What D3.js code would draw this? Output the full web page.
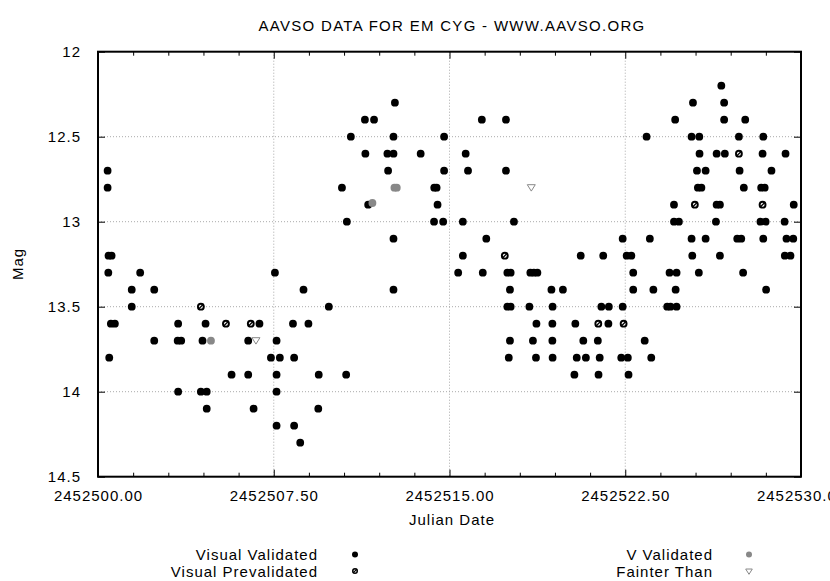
<!DOCTYPE html>
<html lang="en">
  <head>
    <meta charset="UTF-8" />
    <title>AAVSO EM CYG</title>
    <style>
      body { margin: 0; background: #fff; }
      svg text { font-family: "Liberation Sans", Arial, sans-serif; font-size: 15px; letter-spacing: 1px; fill: #000; }
    </style>
  </head>
  <body>
    <div id="chart"></div>
    <script src="https://d3js.org/d3.v7.min.js"></script>
    <script>
      // julian date base, points are stored as [days after JD0, magnitude]
      var JD0 = 2452500;

      var visualValidated = [
        [0.41,12.7],[0.41,12.8],[0.45,13.2],[0.58,13.2],[0.44,13.3],[1.80,13.3],[1.44,13.4],[2.40,13.4],
        [1.44,13.5],[0.55,13.6],[0.72,13.6],[3.42,13.6],[4.59,13.6],[6.89,13.6],[2.40,13.7],[3.40,13.7],
        [3.55,13.7],[4.46,13.7],[6.41,13.7],[7.62,13.7],[0.48,13.8],[7.38,13.8],[7.76,13.8],[8.37,13.8],
        [5.70,13.9],[6.41,13.9],[7.62,13.9],[3.42,14.0],[4.39,14.0],[4.64,14.0],[7.62,14.0],[4.64,14.1],
        [6.64,14.1],[7.62,14.2],
        [12.67,12.3],[11.39,12.4],[11.78,12.4],[10.79,12.5],[12.61,12.5],[14.77,12.5],[11.41,12.6],
        [12.35,12.6],[12.61,12.6],[13.77,12.6],[12.38,12.7],[14.77,12.7],[10.41,12.8],[14.35,12.8],
        [14.45,12.8],[11.53,12.9],[14.49,12.9],[10.62,13.0],[14.34,13.0],[14.73,13.0],[12.61,13.1],
        [7.55,13.3],[8.77,13.4],[12.61,13.4],[9.85,13.5],[8.32,13.6],[8.98,13.6],[9.42,13.9],
        [10.59,13.9],[9.40,14.1],[8.37,14.2],[8.63,14.3],
        [16.38,12.4],[17.41,12.4],[15.69,12.6],[15.79,12.7],[17.41,12.7],[15.57,13.0],[17.75,13.0],
        [16.57,13.1],[22.39,13.1],[15.57,13.2],[20.60,13.2],[21.56,13.2],[22.56,13.2],[22.76,13.2],
        [15.37,13.3],[16.42,13.3],[17.47,13.3],[17.61,13.3],[18.45,13.3],[18.60,13.3],[18.75,13.3],
        [22.84,13.3],[17.58,13.4],[19.35,13.4],[19.84,13.4],[22.84,13.4],[17.47,13.5],[17.61,13.5],
        [18.41,13.5],[19.40,13.5],[21.48,13.5],[21.80,13.5],[22.39,13.5],[18.71,13.6],[19.39,13.6],
        [20.37,13.6],[21.78,13.6],[17.58,13.7],[18.56,13.7],[19.39,13.7],[20.71,13.7],[21.33,13.7],
        [17.53,13.8],[18.69,13.8],[19.40,13.8],[20.43,13.8],[20.82,13.8],[21.41,13.8],[22.33,13.8],
        [22.61,13.8],[20.33,13.9],[21.36,13.9],[22.64,13.9],
        [26.60,12.2],[25.39,12.3],[26.72,12.3],[24.63,12.4],[26.72,12.4],[27.62,12.4],[23.41,12.5],
        [25.33,12.5],[25.66,12.5],[27.35,12.5],[28.39,12.5],[25.67,12.6],[26.40,12.6],[26.75,12.6],
        [28.36,12.6],[29.34,12.6],[25.56,12.7],[25.93,12.7],[27.38,12.7],[28.74,12.7],[25.60,12.8],
        [25.75,12.8],[27.56,12.8],[28.30,12.8],[28.45,12.8],[24.58,12.9],[26.40,12.9],[26.54,12.9],
        [29.69,12.9],[24.58,13.0],[24.79,13.0],[26.37,13.0],[28.27,13.0],[28.49,13.0],[29.30,13.0],
        [23.55,13.1],[25.33,13.1],[25.93,13.1],[27.28,13.1],[27.45,13.1],[28.39,13.1],[29.38,13.1],
        [29.67,13.1],[29.31,13.2],[29.55,13.2],[25.36,13.2],[26.54,13.2],[24.39,13.3],[24.69,13.3],
        [25.64,13.3],[27.53,13.3],[23.70,13.4],[24.65,13.4],[28.51,13.4],[24.29,13.5],[24.43,13.5],
        [24.69,13.5],[23.33,13.7],[23.61,13.8]
      ];
      var visualPrevalidated = [
        [4.39,13.5],[5.46,13.6],[6.52,13.6],[17.36,13.2],[21.35,13.6],[22.43,13.6],
        [27.35,12.6],[25.47,12.9],[28.36,12.9]
      ];
      var vValidated = [[4.82,13.7],[11.71,12.89],[12.65,12.8],[12.75,12.8]];
      var fainterThan = [[6.74,13.7],[18.49,12.8]];

      var xMajor = [0, 7.5, 15, 22.5, 30];
      var xMinor = [1.5, 3, 4.5, 6, 9, 10.5, 12, 13.5, 16.5, 18, 19.5, 21, 24, 25.5, 27, 28.5];
      var yMajor = [12, 12.5, 13, 13.5, 14, 14.5];

      var W = 830, H = 581;
      var pLeft = 98, pRight = 801, pTop = 51.7, pBottom = 476.7;

      var svg = d3.select("#chart").append("svg").attr("width", W).attr("height", H);

      var x = d3.scaleLinear().domain([JD0, JD0 + 30]).range([pLeft, pRight]);
      var y = d3.scaleLinear().domain([12, 14.5]).range([pTop, pBottom]);

      // dotted grid at inner major ticks
      var grid = svg.append("g").attr("stroke", "#aaa").attr("stroke-width", 1).attr("stroke-dasharray", "1,2");
      grid.selectAll("line.gx")
        .data(xMajor.slice(1, -1))
        .enter().append("line")
        .attr("x1", d => x(JD0 + d)).attr("x2", d => x(JD0 + d))
        .attr("y1", pTop).attr("y2", pBottom);
      grid.selectAll("line.gy")
        .data(yMajor.slice(1, -1))
        .enter().append("line")
        .attr("x1", pLeft).attr("x2", pRight)
        .attr("y1", d => y(d)).attr("y2", d => y(d));

      // axes, ticks pointing inward
      var fmt = d3.format(".2f");
      svg.append("g").attr("transform", "translate(0," + pBottom + ")")
        .call(d3.axisBottom(x).tickValues(xMajor.map(d => JD0 + d)).tickSizeInner(-7).tickSizeOuter(0).tickPadding(14).tickFormat(fmt));
      svg.append("g").attr("transform", "translate(0," + pBottom + ")")
        .call(d3.axisBottom(x).tickValues(xMinor.map(d => JD0 + d)).tickSizeInner(-4).tickSizeOuter(0).tickFormat(""));
      svg.append("g").attr("transform", "translate(0," + pTop + ")")
        .call(d3.axisTop(x).tickValues(xMajor.map(d => JD0 + d)).tickSizeInner(-7).tickSizeOuter(0).tickFormat(""));
      svg.append("g").attr("transform", "translate(0," + pTop + ")")
        .call(d3.axisTop(x).tickValues(xMinor.map(d => JD0 + d)).tickSizeInner(-4).tickSizeOuter(0).tickFormat(""));
      svg.append("g").attr("transform", "translate(" + pLeft + ",0)")
        .call(d3.axisLeft(y).tickValues(yMajor).tickSizeInner(-7).tickSizeOuter(0).tickPadding(17).tickFormat(d3.format("")));
      svg.append("g").attr("transform", "translate(" + pRight + ",0)")
        .call(d3.axisRight(y).tickValues(yMajor).tickSizeInner(-7).tickSizeOuter(0).tickFormat(""));

      svg.selectAll(".domain").remove();
      svg.selectAll(".tick line").attr("stroke", "#000").attr("stroke-width", 1);
      svg.selectAll(".tick text")
        .attr("font-family", null).attr("font-size", null)
        .style("font-size", "15px");

      // frame
      svg.append("rect")
        .attr("x", pLeft).attr("y", pTop)
        .attr("width", pRight - pLeft).attr("height", pBottom - pTop)
        .attr("fill", "none").attr("stroke", "#000").attr("stroke-width", 2);

      // titles
      svg.append("text").attr("x", 452).attr("y", 31).attr("text-anchor", "middle")
        .style("letter-spacing", "1.3px")
        .text("AAVSO DATA FOR EM CYG - WWW.AAVSO.ORG");
      svg.append("text").attr("x", 452).attr("y", 525).attr("text-anchor", "middle").text("Julian Date");
      svg.append("text").attr("transform", "translate(23,264) rotate(-90)").attr("text-anchor", "middle").text("Mag");

      // symbols
      function dot(g, px, py, r, col) {
        g.append("circle").attr("cx", px).attr("cy", py).attr("r", r).attr("fill", col);
      }
      function prevalid(g, px, py, r) {
        g.append("circle").attr("cx", px).attr("cy", py).attr("r", r).attr("fill", "#000");
        g.append("circle").attr("cx", px).attr("cy", py).attr("r", r * 0.5).attr("fill", "#fff");
        g.append("line").attr("x1", px - r * 0.7).attr("y1", py + r * 0.7)
          .attr("x2", px + r * 0.7).attr("y2", py - r * 0.7)
          .attr("stroke", "#000").attr("stroke-width", 1.3);
      }
      function fainter(g, px, py, s) {
        g.append("path")
          .attr("d", "M" + (px - s) + "," + (py - s * 0.75) + "L" + (px + s) + "," + (py - s * 0.75) + "L" + px + "," + (py + s * 0.85) + "Z")
          .attr("fill", "#fff").attr("stroke", "#888").attr("stroke-width", 1);
      }

      var marks = svg.append("g");
      visualValidated.forEach(d => dot(marks, x(JD0 + d[0]), y(d[1]), 3.9, "#000"));
      vValidated.forEach(d => dot(marks, x(JD0 + d[0]), y(d[1]), 3.9, "#888"));
      visualPrevalidated.forEach(d => prevalid(marks, x(JD0 + d[0]), y(d[1]), 3.9));
      fainterThan.forEach(d => fainter(marks, x(JD0 + d[0]), y(d[1]), 4));

      // legend
      var leg = svg.append("g");
      leg.append("text").attr("x", 318).attr("y", 560).attr("text-anchor", "end").text("Visual Validated");
      leg.append("text").attr("x", 318).attr("y", 576.5).attr("text-anchor", "end").text("Visual Prevalidated");
      leg.append("text").attr("x", 713).attr("y", 560).attr("text-anchor", "end").text("V Validated");
      leg.append("text").attr("x", 713).attr("y", 576.5).attr("text-anchor", "end").text("Fainter Than");
      dot(leg, 355, 554.5, 3, "#000");
      prevalid(leg, 355, 571, 3);
      dot(leg, 749, 554.5, 3, "#888");
      fainter(leg, 749, 571.5, 3.3);
    </script>
  </body>
</html>
